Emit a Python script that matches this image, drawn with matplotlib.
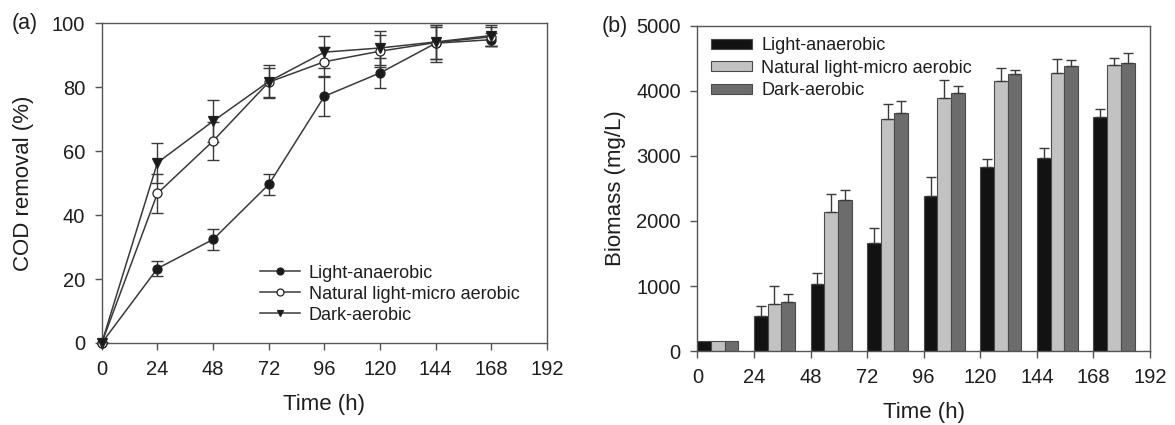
import matplotlib
matplotlib.use("Agg")
import matplotlib.pyplot as plt
from matplotlib.lines import Line2D
import numpy as np

plt.rcParams['font.family'] = ['Liberation Sans', 'DejaVu Sans']

# (a) COD removal
time_h = [0, 24, 48, 72, 96, 120, 144, 168]
cod_light = [0, 23.3, 32.4, 49.6, 77.2, 84.5, 93.8, 94.9]
cod_light_err = [0, 2.5, 3.3, 3.4, 6.1, 4.6, 5.8, 2.0]
cod_natural = [0, 46.8, 63.2, 81.6, 88.0, 91.3, 94.0, 95.8]
cod_natural_err = [0, 6.0, 5.8, 4.5, 4.6, 5.0, 5.0, 3.0]
cod_dark = [0, 56.4, 69.4, 81.8, 91.0, 92.3, 94.2, 96.2]
cod_dark_err = [0, 6.2, 6.5, 5.3, 5.0, 5.2, 5.4, 3.3]

# (b) biomass
bio_light = [155, 535, 1030, 1668, 2378, 2837, 2970, 3598]
bio_light_err = [0, 155, 165, 226, 299, 118, 155, 119]
bio_natural = [155, 720, 2131, 3573, 3887, 4154, 4283, 4402]
bio_natural_err = [0, 280, 283, 221, 283, 201, 206, 108]
bio_dark = [155, 757, 2317, 3665, 3964, 4257, 4386, 4427]
bio_dark_err = [0, 118, 164, 186, 113, 67, 93, 150]

labels = ['Light-anaerobic', 'Natural light-micro aerobic', 'Dark-aerobic']
ticks = [0, 24, 48, 72, 96, 120, 144, 168, 192]
line_c = '#3a3a3a'
txt_c = '#1e1e1e'

fig = plt.figure(figsize=(11.75, 4.25), dpi=100)

# ---- panel a
ax = fig.add_axes([0.0866, 0.193, 0.379, 0.752])
series = [(cod_light, cod_light_err, 'o', '#1a1a1a'),
          (cod_natural, cod_natural_err, 'o', 'white'),
          (cod_dark, cod_dark_err, 'v', '#1a1a1a')]
handles = []
for (y, e, m, fc), lab in zip(series, labels):
    ax.errorbar(time_h, y, yerr=e, fmt='none', ecolor=line_c, elinewidth=1.0,
                capsize=4.5, capthick=1.0)
    ax.plot(time_h, y, color=line_c, lw=1.1, marker=m, ms=6.5, mfc=fc,
            mec='#222222', mew=0.9, clip_on=False, zorder=3)
    handles.append(Line2D([], [], color=line_c, lw=1.1, marker=m, ms=5,
                          mfc=fc, mec='#222222', mew=0.9))
ax.set_xlim(0, 192)
ax.set_ylim(0, 100)
ax.set_xticks(ticks)
ax.set_yticks([0, 20, 40, 60, 80, 100])
ax.set_xlabel('Time (h)', fontsize=16, color=txt_c)
ax.set_ylabel('COD removal (%)', fontsize=16, color=txt_c)
ax.xaxis.set_label_coords(0.5, -0.16)
ax.yaxis.set_label_coords(-0.152, 0.5)
ax.legend(handles, labels, loc='upper left', bbox_to_anchor=(0.355, 0.245),
          frameon=False, fontsize=13, handlelength=2.2, handletextpad=0.5,
          labelspacing=0.22, borderpad=0, borderaxespad=0, labelcolor=txt_c)
fig.text(0.010, 0.945, '(a)', fontsize=15.5, va='center', color=txt_c)

# ---- panel b
bx = fig.add_axes([0.5935, 0.174, 0.3853, 0.765])
t = np.array(time_h)
w = 5.8
bars = [(bio_light, bio_light_err, '#121212'),
        (bio_natural, bio_natural_err, '#c2c2c2'),
        (bio_dark, bio_dark_err, '#6c6c6c')]
for i, ((y, e, c), lab) in enumerate(zip(bars, labels)):
    x = t + w * i + w / 2
    bx.bar(x, y, width=w, color=c, edgecolor='#4a4a4a', lw=0.8, label=lab)
    up = np.array(e)
    mask = up > 0
    bx.errorbar(x[mask], np.array(y)[mask], yerr=[np.zeros(mask.sum()), up[mask]],
                fmt='none', ecolor='#3a3a3a', elinewidth=1.0, capsize=3.5, capthick=1.0)
bx.set_xlim(0, 192)
bx.set_ylim(0, 5000)
bx.set_xticks(ticks)
bx.set_yticks([0, 1000, 2000, 3000, 4000, 5000])
bx.set_xlabel('Time (h)', fontsize=16, color=txt_c)
bx.set_ylabel('Biomass (mg/L)', fontsize=16, color=txt_c)
bx.xaxis.set_label_coords(0.5, -0.158)
bx.yaxis.set_label_coords(-0.158, 0.5)
bx.legend(loc='upper left', bbox_to_anchor=(0.030, 0.965), frameon=False,
          fontsize=13, handlelength=2.25, handleheight=0.5, handletextpad=0.55,
          labelspacing=0.3, borderpad=0, borderaxespad=0, labelcolor=txt_c)
fig.text(0.512, 0.937, '(b)', fontsize=15.5, va='center', color=txt_c)

for a in (ax, bx):
    a.tick_params(labelsize=14.5, direction='out', length=5, width=1.0,
                  color='#555555', labelcolor=txt_c)
    a.tick_params(axis='x', pad=7.5)
    a.tick_params(axis='y', pad=7)
    for s in a.spines.values():
        s.set_color('#555555')
        s.set_linewidth(1.0)

fig.savefig('out.png', dpi=100)
